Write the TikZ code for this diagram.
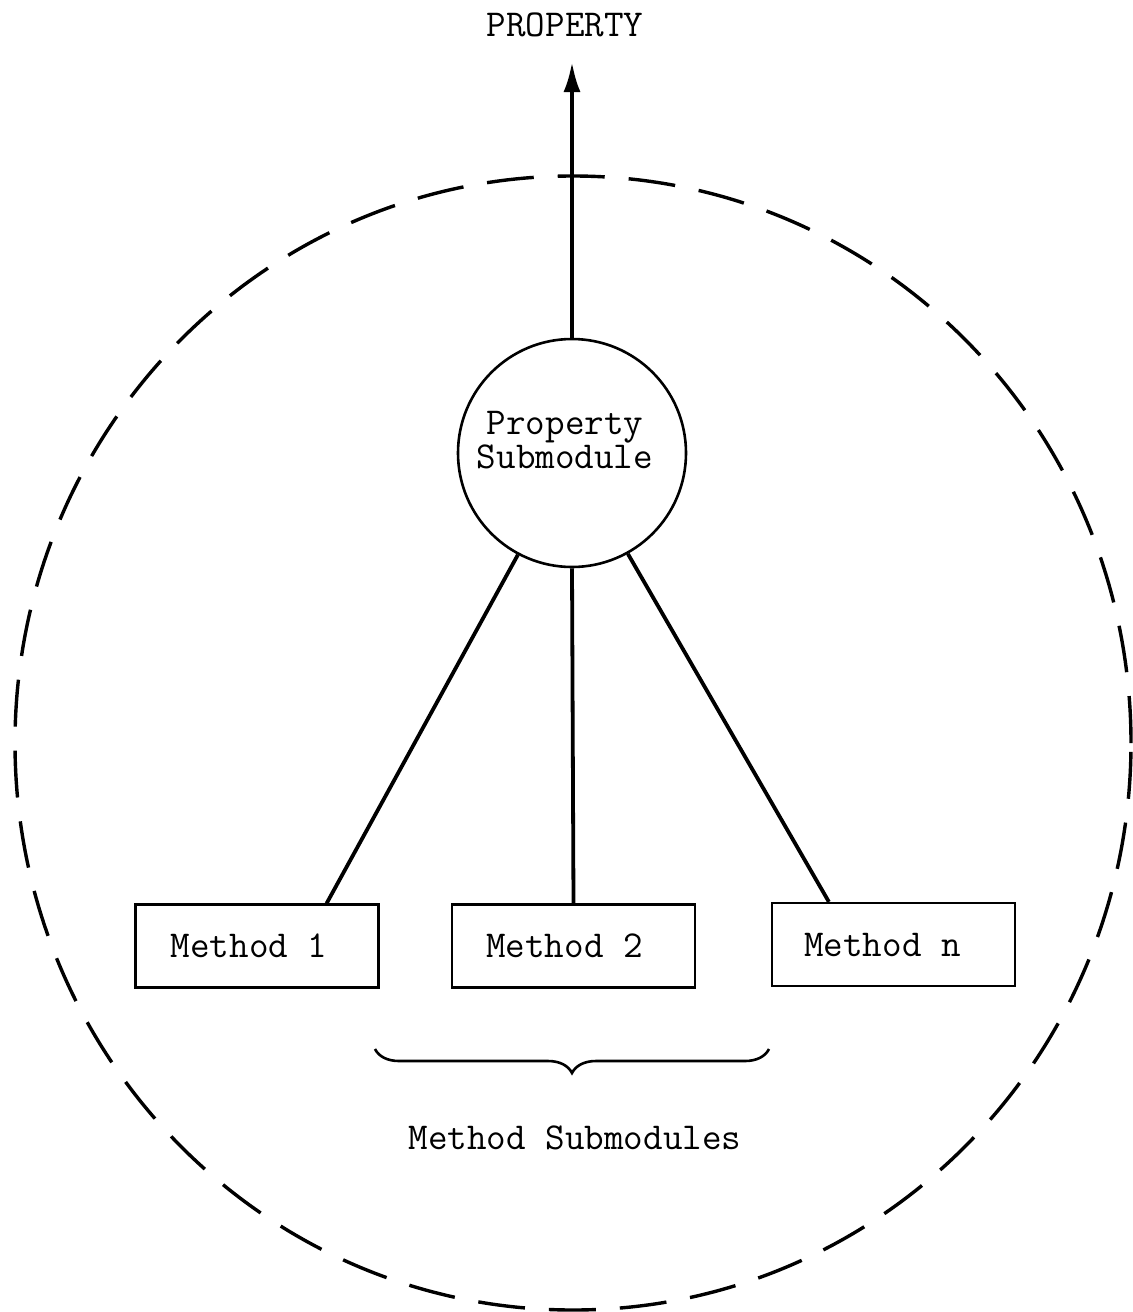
\documentclass[tikz,border=0pt]{standalone}
\usepackage{fontspec}
\usetikzlibrary{arrows.meta,decorations.pathreplacing}
\begin{document}
\begin{tikzpicture}[x=0.5pt,y=-0.5pt,
  every node/.style={font=\ttfamily\fontsize{19}{16.5}\selectfont, inner sep=0pt},
  submod/.style={circle, draw, line width=1.3pt, minimum size=114pt, align=center},
  methodbox/.style={rectangle, draw, line width=1.1pt, minimum width=121.5pt, minimum height=41.5pt},
  link/.style={line width=1.9pt},
  boundary/.style={line width=1.7pt, dash pattern=on 23.5pt off 12pt}]
  \useasboundingbox (0,0) rectangle (1132,1312);

  % module boundary
  \draw[boundary] (573,743) ellipse [x radius=279pt, y radius=283.5pt];

  % property submodule and its output
  \node[submod] (prop) at (572,453)
    {\raisebox{4pt}[\height][\depth]{\begin{tabular}{@{}c@{}}Property\\[0.5pt]Submodule\end{tabular}}\hspace*{7pt}};
  \node (out) at (565,25) {PROPERTY};
  \coordinate (tip) at (572,62);
  \draw[link, -{Latex[length=15pt,width=8.5pt]}] (prop.north) -- (tip);

  % method submodules
  \node[methodbox] (m1) at (257,946) {Method 1\hspace*{8pt}};
  \node[methodbox] (m2) at (573.5,946) {Method 2\hspace*{9pt}};
  \node[methodbox] (mn) at (893.5,944.5) {Method n\hspace*{11pt}};

  \draw[link] (prop.242) -- ([xshift=-26.5pt]m1.north east);
  \draw[link] (prop.south) -- (m2.north);
  \draw[link] (prop.299) -- ([xshift=29pt]mn.north west);

  % grouping brace
  \coordinate (bl) at (375,1049);
  \coordinate (br) at (769,1049);
  \draw[line width=1.3pt, decorate, decoration={brace, amplitude=12pt}] (br) -- (bl);
  \node (grp) at (575,1138) {Method Submodules};
\end{tikzpicture}
\end{document}
